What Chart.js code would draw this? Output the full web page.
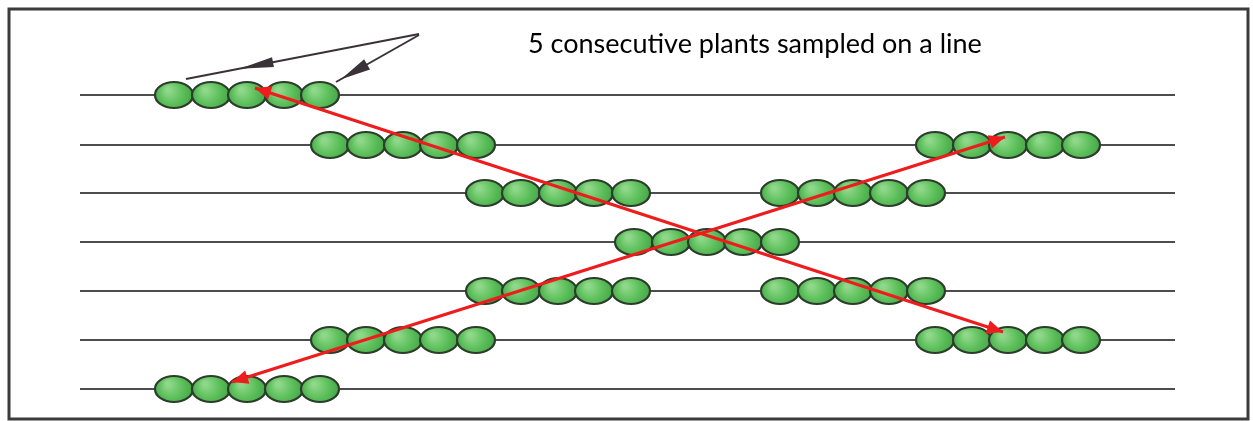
<!DOCTYPE html>
<html>
<head>
<meta charset="utf-8">
<script src="https://cdn.jsdelivr.net/npm/chart.js@4.4.1/dist/chart.umd.min.js"></script>
<style>
html, body { margin: 0; padding: 0; background: #fff; }
#wrap { position: relative; width: 1253px; height: 421px; }
</style>
</head>
<body>
<div id="wrap"><canvas id="field"></canvas></div>
<script>
// field layout in plot units (x across the field, y down the rows)
const ROW_Y = [95, 145, 193, 242, 291, 340, 389];
const ROW_X = [80, 1175];

// plant centres, 5 consecutive plants per sample
const SAMPLE_A = [174, 211, 247, 284, 320];
const SAMPLE_B = [330, 366, 403, 439, 476];
const SAMPLE_C = [485, 521, 558, 594, 631];
const SAMPLE_D = [634, 671, 707, 743, 780];
const SAMPLE_E = [780, 817, 853, 889, 926];
const SAMPLE_F = [935, 972, 1008, 1045, 1081];
// [row index, sample]
const SAMPLE_ROWS = [
    [0, SAMPLE_A], [1, SAMPLE_B], [1, SAMPLE_F], [2, SAMPLE_C], [2, SAMPLE_E],
    [3, SAMPLE_D], [4, SAMPLE_C], [4, SAMPLE_E], [5, SAMPLE_B], [5, SAMPLE_F], [6, SAMPLE_A]
];

// walking path (red) and label pointers (black)
const PATH_1 = [{ x: 255, y: 88 }, { x: 1003, y: 332 }];
const PATH_2 = [{ x: 1005, y: 137 }, { x: 232, y: 382 }];
const POINTER_1 = [{ x: 419, y: 34 }, { x: 186, y: 79 }];
const POINTER_2 = [{ x: 419, y: 35 }, { x: 336, y: 82 }];

const CAPTION = '5 consecutive plants sampled on a line';

function plantImage() {
    const c = document.createElement('canvas');
    c.width = 42; c.height = 30;
    const g = c.getContext('2d');
    const grad = g.createRadialGradient(15, 10, 2, 21, 15, 22);
    grad.addColorStop(0, '#8fd88a');
    grad.addColorStop(0.5, '#5cbf5a');
    grad.addColorStop(1, '#3e9e42');
    g.beginPath();
    g.ellipse(21, 15, 19, 13, 0, 0, Math.PI * 2);
    g.fillStyle = grad;
    g.fill();
    g.lineWidth = 2.2;
    g.strokeStyle = '#2c3d2c';
    g.stroke();
    return c;
}
const PLANT = plantImage();

const datasets = [];

datasets.push({
    type: 'line', data: PATH_1, borderColor: '#ee1c1c', borderWidth: 3, pointRadius: 0, order: 1,
    heads: [{ at: 1, dir: 1, len: 16, w: 7 }, { at: 0, dir: -1, len: 16, w: 7 }]
});
datasets.push({
    type: 'line', data: PATH_2, borderColor: '#ee1c1c', borderWidth: 3, pointRadius: 0, order: 1,
    heads: [{ at: 1, dir: 1, len: 16, w: 7 }, { at: 0, dir: -1, len: 16, w: 7 }]
});
datasets.push({
    type: 'line', data: POINTER_1, borderColor: '#3a3238', borderWidth: 2, pointRadius: 0, order: 1,
    heads: [{ at: 0.77, dir: 1, len: 34, w: 5 }]
});
datasets.push({
    type: 'line', data: POINTER_2, borderColor: '#3a3238', borderWidth: 2, pointRadius: 0, order: 1,
    heads: [{ at: 0.94, dir: 1, len: 30, w: 6 }]
});

SAMPLE_ROWS.forEach(([r, xs]) => {
    datasets.push({
        type: 'scatter',
        data: xs.map(x => ({ x, y: ROW_Y[r] })),
        pointStyle: PLANT,
        pointRadius: 12,
        order: 2
    });
});

ROW_Y.forEach(y => {
    datasets.push({
        type: 'line',
        data: ROW_X.map(x => ({ x, y })),
        borderColor: '#4d4d4d',
        borderWidth: 2,
        pointRadius: 0,
        order: 3
    });
});

const frame = {
    id: 'frame',
    beforeDatasetsDraw(chart) {
        const { ctx, scales: { x, y } } = chart;
        ctx.save();
        ctx.strokeStyle = '#3b3b3b';
        ctx.lineWidth = 3;
        ctx.strokeRect(x.getPixelForValue(9), y.getPixelForValue(9),
            x.getPixelForValue(1248) - x.getPixelForValue(9), y.getPixelForValue(419) - y.getPixelForValue(9));
        ctx.fillStyle = '#000';
        ctx.font = '27px Lato';
        ctx.textBaseline = 'alphabetic';
        ctx.fillText(CAPTION, x.getPixelForValue(528), y.getPixelForValue(53));
        ctx.restore();
    }
};

const arrowHeads = {
    id: 'arrowHeads',
    afterDatasetsDraw(chart) {
        const ctx = chart.ctx;
        chart.data.datasets.forEach((ds, i) => {
            if (!ds.heads) return;
            const [a, b] = chart.getDatasetMeta(i).data;
            const ang = Math.atan2(b.y - a.y, b.x - a.x);
            ds.heads.forEach(h => {
                const px = a.x + (b.x - a.x) * h.at;
                const py = a.y + (b.y - a.y) * h.at;
                ctx.save();
                ctx.translate(px, py);
                ctx.rotate(h.dir > 0 ? ang : ang + Math.PI);
                ctx.beginPath();
                ctx.moveTo(0, 0);
                ctx.lineTo(-h.len, -h.w);
                ctx.lineTo(-h.len, h.w);
                ctx.closePath();
                ctx.fillStyle = ds.borderColor;
                ctx.fill();
                ctx.restore();
            });
        });
    }
};

new Chart(document.getElementById('field'), {
    type: 'scatter',
    data: { datasets },
    options: {
        responsive: true,
        maintainAspectRatio: false,
        animation: false,
        layout: { padding: 0, autoPadding: false },
        plugins: { legend: { display: false }, tooltip: { enabled: false } },
        scales: {
            x: { type: 'linear', min: 0, max: 1253, display: false },
            y: { type: 'linear', min: 0, max: 421, reverse: true, display: false }
        }
    },
    plugins: [frame, arrowHeads]
});
</script>
</body>
</html>
